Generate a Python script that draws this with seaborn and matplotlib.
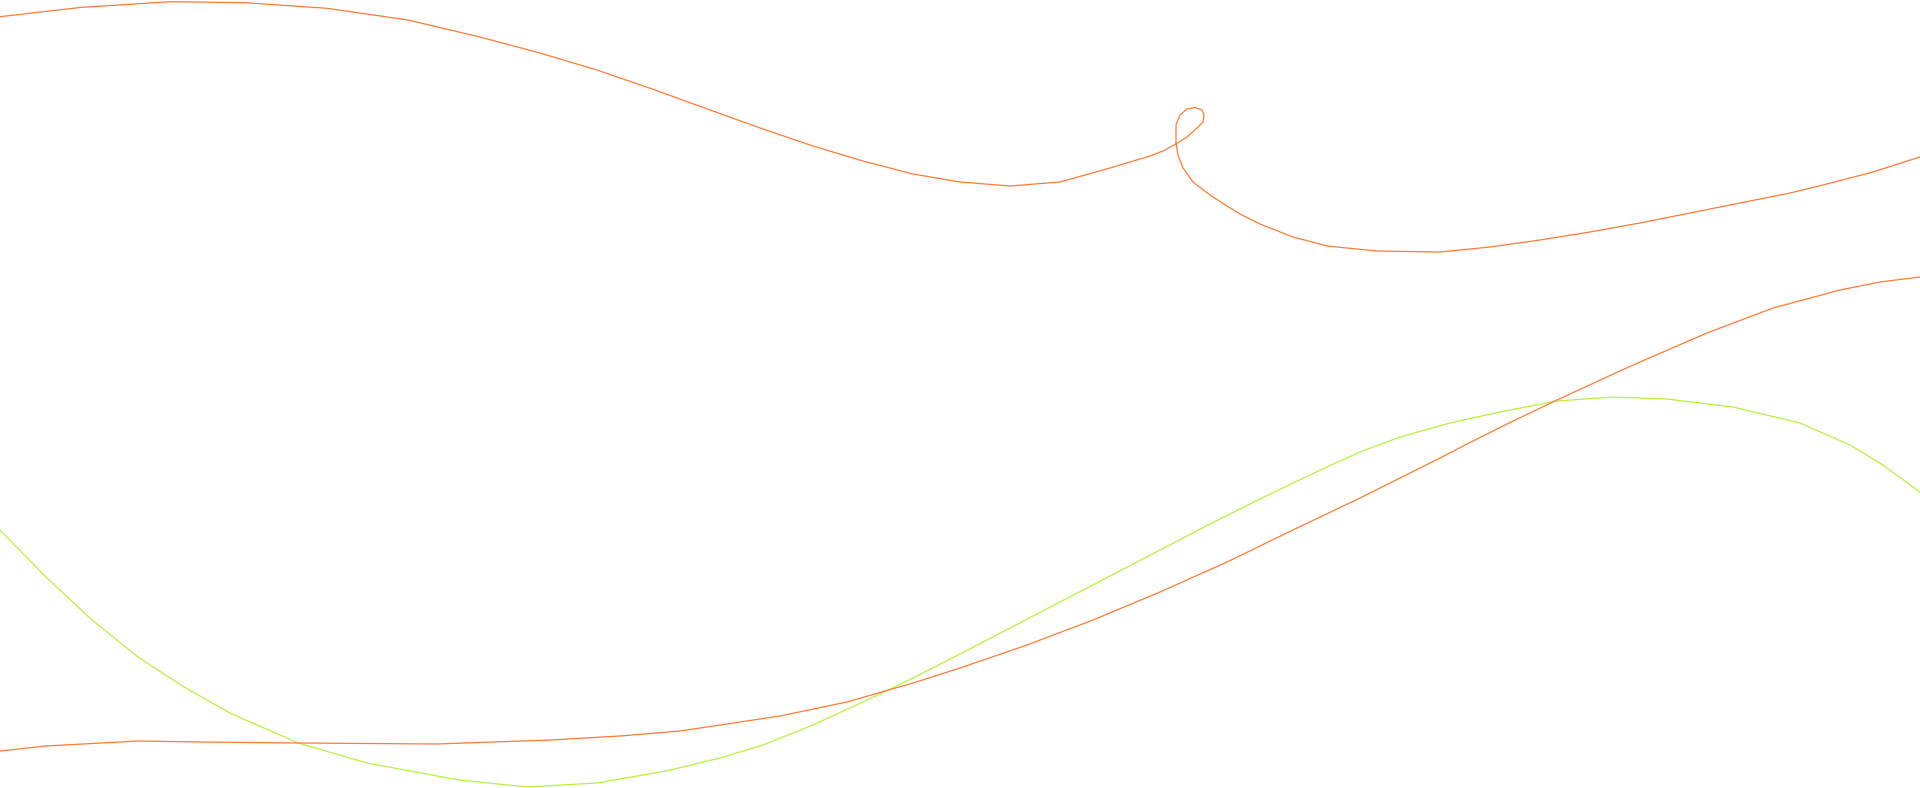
import pandas as pd
import matplotlib
matplotlib.use("Agg")
import matplotlib.pyplot as plt
import seaborn as sns

# pontos (pixels, y para baixo)
loop_x = [0, 82, 171, 245, 327, 408, 480, 540, 597, 655, 713, 763, 813, 863,
          913, 960, 1010, 1060, 1110, 1150, 1163, 1176, 1187, 1197, 1203, 1204,
          1202, 1195, 1187, 1180, 1176, 1176, 1176, 1178, 1183, 1193, 1210, 1227,
          1240, 1260, 1293, 1327, 1377, 1440, 1490, 1540, 1590, 1640, 1690, 1740,
          1790, 1823, 1873, 1920]
loop_y = [16.7, 7.3, 1.7, 2.7, 8.3, 20, 37, 53, 70, 90, 111, 129, 146, 161,
          174, 182, 186, 182, 168, 156, 151, 144, 137, 128, 122, 115,
          110, 107.5, 109, 115, 125, 135, 143, 155, 168, 182, 195, 206,
          214, 224, 237, 246, 251, 252, 247, 240, 232, 223, 213, 203,
          193, 185, 172, 157]

low_x = [0, 46, 138, 200, 298, 436, 551, 620, 680, 720, 780, 847, 913, 960,
         1027, 1093, 1160, 1227, 1293, 1360, 1400, 1440, 1467, 1507, 1557, 1622,
         1640, 1707, 1773, 1840, 1880, 1920]
low_y = [751, 746, 741, 742, 743, 744, 740, 736, 731, 725, 716, 702, 683, 668,
         645, 620, 592, 562, 530, 498, 478, 458, 444, 424, 400, 370,
         362, 333, 308, 290, 282, 277]

green_x = [0, 46, 92, 138, 184, 230, 298, 367, 459, 528, 597, 666, 720, 763,
           813, 880, 913, 960, 1010, 1060, 1110, 1160, 1210, 1260, 1293, 1327,
           1360, 1400, 1450, 1500, 1557, 1613, 1667, 1733, 1800, 1850, 1883, 1920]
green_y = [530, 577, 620, 657, 687, 713, 743, 763, 780, 787, 783, 771, 758, 745,
           725, 694, 678, 654, 628, 602, 576, 550, 524, 499, 483, 467,
           452, 437, 423, 412, 401, 397, 399, 407, 423, 445, 465, 492]

orange = "#FF7B33"
lime = "#B7F23C"

fig = plt.figure(figsize=(19.2, 7.88), dpi=100)
ax = fig.add_axes([0, 0, 1, 1])

df_green = pd.DataFrame({"x": green_x, "y": green_y})
df_low = pd.DataFrame({"x": low_x, "y": low_y})
df_loop = pd.DataFrame({"x": loop_x, "y": loop_y})

sns.lineplot(data=df_green, x="x", y="y", sort=False, estimator=None,
             color=lime, lw=0.9, ax=ax)
sns.lineplot(data=df_low, x="x", y="y", sort=False, estimator=None,
             color=orange, lw=0.9, ax=ax)
sns.lineplot(data=df_loop, x="x", y="y", sort=False, estimator=None,
             color=orange, lw=0.9, ax=ax)

ax.set_xlim(0, 1920)
ax.set_ylim(788, 0)
ax.axis("off")

fig.savefig("out.png", dpi=100, facecolor="white")
